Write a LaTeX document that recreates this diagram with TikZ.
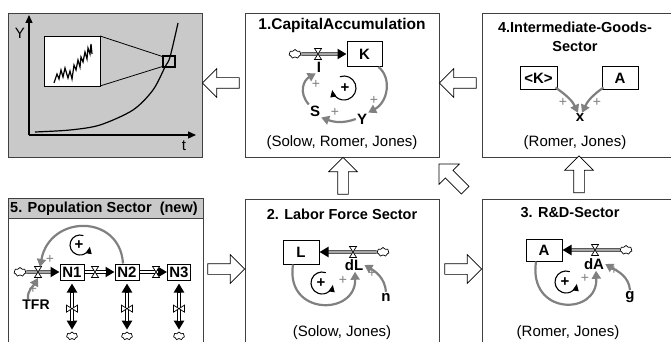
\documentclass[tikz,border=0pt]{standalone}
\usepackage{fontspec}
\setmainfont{Liberation Sans}
\usetikzlibrary{arrows.meta,shapes.symbols,shapes.arrows,positioning,calc}
\definecolor{panelgray}{gray}{0.79}
\definecolor{linkgray}{gray}{0.5}

\begin{document}
\begin{tikzpicture}[x=1pt, y=1pt,
    panel/.style={draw=black!75, line width=0.9pt},
    ttl/.style={font=\fontsize{14.5}{19}\selectfont\bfseries, align=center, inner sep=0pt},
    refs/.style={font=\fontsize{15}{17}\selectfont, inner sep=0pt},
    lbl/.style={font=\fontsize{15}{17}\selectfont\bfseries, inner sep=1pt},
    stock/.style={draw, line width=1pt, fill=white, font=\fontsize{15}{17}\selectfont\bfseries, inner sep=0pt, minimum width=36pt, minimum height=24pt},
    nstock/.style={stock, minimum width=24pt, minimum height=16pt},
    cld/.style={cloud, cloud puffs=7, cloud ignores aspect, draw, fill=white, line width=0.7pt, inner sep=0pt, minimum width=12pt, minimum height=9pt},
    blk/.style={single arrow, draw, fill=white, line width=0.7pt, inner xsep=0pt, inner ysep=5pt, single arrow head extend=9pt, minimum height=37pt},
    infl/.style={draw=linkgray, line width=2.2pt, -{Triangle[length=8pt,width=9pt]}},
    fbloop/.style={line width=1.1pt, -{Triangle[length=7pt,width=6pt]}},
    pls/.style={text=linkgray, font=\fontsize{14}{14}\selectfont, inner sep=0pt},
    pipe/.style={line width=3.2pt, -{Triangle[length=9pt,width=10pt]}},
    pipeboth/.style={line width=3.2pt, {Triangle[length=9pt,width=10pt]}-{Triangle[length=9pt,width=10pt]}, shorten <=3pt, shorten >=2pt},
    pipein/.style={white, line width=1.2pt, shorten >=9pt},
    pics/valve/.style={code={\draw[fill=white, line width=0.7pt] (-3.5,5.5) -- (3.5,5.5) -- (-3.5,-5.5) -- (3.5,-5.5) -- cycle;}}
  ]
  \path[use as bounding box, clip] (0,0) rectangle (671,-342);

  % growth path
  \draw[panel, fill=panelgray] (8,-13) rectangle (202,-157);
  \draw[line width=1.3pt, -{Triangle[length=8pt,width=7pt]}] (29,-135) -- (29,-15);
  \draw[line width=1.3pt, -{Triangle[length=8pt,width=7pt]}] (29,-135) -- (196,-135);
  \node[refs] (ylab) at (20,-33) {Y};
  \node[refs] (tlab) at (184,-146) {t};
  \draw[line width=1.2pt] plot[smooth] coordinates {(35,-132) (70,-130) (100,-125) (133,-110) (153,-90) (165,-67) (170,-57) (178,-23)};
  \draw[line width=1.3pt] (163,-56) rectangle (175,-67);
  \draw[fill=white, line width=0.8pt] (44,-36) rectangle (100,-86);
  \draw[line width=0.8pt] (100,-36) -- (164,-57);
  \draw[line width=0.8pt] (100,-86) -- (164,-66);
  \draw[line width=1.2pt] (54,-83) -- (57,-74) -- (59,-79) -- (61,-70) -- (63,-77) -- (65,-68) -- (68,-78) -- (70,-71) -- (72,-79)
    -- (74,-65) -- (76,-70) -- (78,-60) -- (80,-67) -- (81,-57) -- (83,-62) -- (85,-52) -- (87,-59) -- (88,-48) -- (90,-54) -- (91,-44) -- (92,-54);

  % 1. capital
  \draw[panel] (245,-13) rectangle (439,-157);
  \node[ttl, font=\fontsize{15.5}{19}\selectfont\bfseries] (t1) at (342,-25) {1.CapitalAccumulation};
  \node[cld] (c1) at (295,-54) {};
  \node[stock, minimum width=35pt, minimum height=25pt] (K) at (364.5,-54) {K};
  \coordinate (vI) at (318,-54);
  \draw[pipe] (c1) -- (K);
  \draw[pipein] (c1) -- (K);
  \pic at (vI) {valve};
  \node[lbl] (I) at (319,-67) {I};
  \node[lbl] (Y) at (362,-119) {Y};
  \node[lbl] (S) at (315,-111) {S};
  \draw[infl] ([xshift=-4pt]K.south east) .. controls (392,-78) and (388,-102) .. (Y.north east);
  \draw[infl] (Y.west) to[out=-160,in=-20] (S.south east);
  \draw[infl] (S.north west) .. controls (298,-92) and (304,-80) .. (I.south west);
  \node[pls] (p11) at (316,-84) {+};
  \node[pls] (p12) at (374,-100) {+};
  \node[pls] (p13) at (335,-112) {+};
  \draw[fbloop] (344,-88) ++(110:12) arc[start angle=110, end angle=-170, radius=12];
  \node[lbl] (l1) at (345,-88) {+};
  \node[refs] (r1) at (342,-143) {(Solow, Romer, Jones)};

  % 4. intermediate goods
  \draw[panel] (482,-13) rectangle (680,-157);
  \node[ttl] (t4) at (575,-37) {4.Intermediate-Goods-\\Sector};
  \node[stock, minimum width=37pt, minimum height=23pt] (Kc) at (538.5,-78.5) {<K>};
  \node[stock, minimum width=36pt, minimum height=23pt] (A4) at (620,-78.5) {A};
  \node[lbl] (x) at (580,-118) {x};
  \draw[infl] ([shift={(-2pt,3pt)}]Kc.south east) to[out=-35,in=115] ([xshift=-2pt]x.north);
  \draw[infl] ([shift={(2pt,3pt)}]A4.south west) to[out=-145,in=65] ([xshift=2pt]x.north);
  \node[pls] (p41) at (563,-102) {+};
  \node[pls] (p42) at (597,-102) {+};
  \node[refs] (r4) at (575,-143) {(Romer, Jones)};

  % 5. population
  \draw[panel] (8,-198) rectangle (203,-350);
  \draw[panel, fill=panelgray] (8,-198) rectangle (203,-218);
  \node[ttl, anchor=west] (t5) at (10,-208.5) {5. Population Sector\ \ (new)};
  \node[cld] (c5) at (20,-272) {};
  \node[nstock] (N1) at (72,-272) {N1};
  \node[nstock, minimum width=24pt] (N2) at (127,-272) {N2};
  \node[nstock, minimum width=23pt] (N3) at (179,-272) {N3};
  \coordinate (v51) at (38,-272);
  \coordinate (v52) at (95,-272);
  \coordinate (v53) at (156,-272);
  \node[cld, minimum width=11pt, minimum height=8pt] (d1) at (72,-336) {};
  \node[cld, minimum width=11pt, minimum height=8pt] (d2) at (127,-336) {};
  \node[cld, minimum width=11pt, minimum height=8pt] (d3) at (179,-336) {};
  \foreach \a/\b in {c5/N1, N1/N2, N2/N3} {
    \draw[pipe] (\a) -- (\b);
    \draw[pipein] (\a) -- (\b);
  }
  \foreach \a/\b in {N1/d1, N2/d2, N3/d3} {
    \draw[pipeboth] (\a) -- (\b);
    \draw[pipein, shorten <=12pt, shorten >=11pt] (\a) -- (\b);
    \pic[rotate=90] at ($(\a.south)!0.55!(\b.north)$) {valve};
  }
  \foreach \v in {v51, v52, v53} \pic at (\v) {valve};
  \node[lbl, font=\fontsize{14}{16}\selectfont\bfseries] (TFR) at (36,-305) {TFR};
  \draw[infl] ([xshift=-4pt]N2.north) .. controls (120,-214) and (50,-214) .. ([shift={(2pt,5pt)}]v51);
  \draw[infl] ([xshift=-8pt]TFR.north) to[out=95,in=-120] ([yshift=-6pt]v51);
  \node[pls] (p51) at (50,-259) {+};
  \node[pls] (p52) at (33,-289) {+};
  \draw[fbloop] (80,-245) ++(70:10) arc[start angle=70, end angle=350, radius=10];
  \node[lbl] (l5) at (79,-245) {+};

  % 2. labor force
  \draw[panel] (245,-199) rectangle (439,-350);
  \node[ttl] (t2) at (342,-214) {2. Labor Force Sector};
  \node[stock] (L) at (301,-252) {L};
  \node[cld] (c2) at (383,-252) {};
  \coordinate (v2) at (353,-252);
  \draw[pipe] (c2) -- (L);
  \draw[pipein] (c2) -- (L);
  \pic at (v2) {valve};
  \node[lbl] (dL) at (354,-265) {dL};
  \node[lbl] (n) at (386,-297) {n};
  \draw[infl] ([xshift=-8pt]L.south) .. controls (285,-316) and (356,-316) .. ([xshift=1pt]dL.south);
  \draw[infl] (n.north) to[out=95,in=-30] (dL.east);
  \node[pls] (p21) at (343,-280) {+};
  \node[pls] (p22) at (372,-273) {+};
  \draw[fbloop] (322,-283) ++(70:11) arc[start angle=70, end angle=350, radius=11];
  \node[lbl] (l2) at (321,-283) {+};
  \node[refs] (r2) at (342,-333) {(Solow, Jones)};

  % 3. R&D
  \draw[panel] (482,-199) rectangle (680,-350);
  \node[ttl] (t3) at (570,-213) {3. R\&D-Sector};
  \node[stock, minimum height=22pt] (A) at (544,-250) {A};
  \node[cld] (c3) at (626,-250) {};
  \coordinate (v3) at (595,-250);
  \draw[pipe] (c3) -- (A);
  \draw[pipein] (c3) -- (A);
  \pic at (v3) {valve};
  \node[lbl] (dA) at (594,-264) {dA};
  \node[lbl] (g) at (630,-297) {g};
  \draw[infl] ([xshift=-8pt]A.south) .. controls (528,-316) and (598,-316) .. ([xshift=2pt]dA.south);
  \draw[infl] (g.north) to[out=95,in=-30] (dA.east);
  \node[pls] (p31) at (585,-278) {+};
  \node[pls] (p32) at (614,-270) {+};
  \draw[fbloop] (566,-282) ++(70:11) arc[start angle=70, end angle=350, radius=11];
  \node[lbl] (l3) at (565,-282) {+};
  \node[refs] (r3) at (568,-333) {(Romer, Jones)};

  % links between sectors
  \node[blk, rotate=180] (a21) at (223.5,-83) {};
  \node[blk, rotate=180] (a42) at (460.5,-83) {};
  \node[blk, rotate=90] (a21u) at (343,-178.5) {};
  \node[blk, rotate=90] (a34) at (579,-177) {};
  \node[blk, rotate=135] (a31) at (454,-179) {};
  \node[blk] (a52) at (223.5,-269) {};
  \node[blk] (a23) at (460.5,-269) {};
\end{tikzpicture}
\end{document}
